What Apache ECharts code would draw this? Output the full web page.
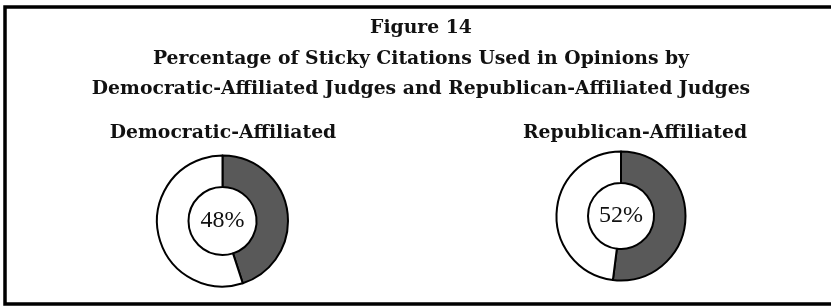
<!DOCTYPE html>
<html>
<head>
<meta charset="utf-8">
<script src="https://cdn.jsdelivr.net/npm/echarts@6/dist/echarts.min.js"></script>
<style>
  body { margin: 0; background: #ffffff; }
  #chart { width: 831px; height: 306px; }
</style>
</head>
<body>
<div id="chart"></div>
<script>
// data
const groups = ['Democratic-Affiliated', 'Republican-Affiliated'];
const stickyShare = [45, 52];   // dark slice as drawn
const otherShare = [55, 48];    // white remainder
const centerLabels = ['48%', '52%'];

const headFont = '"DejaVu Serif", "Liberation Serif", serif';
const bodyFont = '"Liberation Serif", "DejaVu Serif", serif';

let chart = echarts.init(document.getElementById('chart'));

// position of each donut and its heading
let pieCenters = [[222.5, 221], [621, 216]];
let pieRadius = [[34, 65.5], [33, 64.5]];
let headingX = [218, 630];

let titles = [{
  text: 'Figure 14\nPercentage of Sticky Citations Used in Opinions by\nDemocratic-Affiliated Judges and Republican-Affiliated Judges',
  left: 416,
  top: 8,
  textAlign: 'center',
  textStyle: {
    fontFamily: headFont,
    fontSize: 18.8,
    fontWeight: 'bold',
    color: '#111',
    lineHeight: 30.5
  }
}];

groups.forEach((g, i) => {
  titles.push({
    text: g,
    left: headingX[i],
    top: 119,
    textAlign: 'center',
    textStyle: {
      fontFamily: headFont,
      fontSize: 18.8,
      fontWeight: 'bold',
      color: '#111'
    }
  });
});

let series = groups.map((g, i) => {
  return {
    name: g,
    type: 'pie',
    center: pieCenters[i],
    radius: pieRadius[i],
    startAngle: 90,
    clockwise: true,
    silent: true,
    animation: false,
    labelLine: {show: false},
    itemStyle: {
      borderColor: '#000',
      borderWidth: 2
    },
    data: [
      {
        name: 'Sticky',
        value: stickyShare[i],
        itemStyle: {color: '#595959'},
        label: {
          show: true,
          position: 'center',
          formatter: centerLabels[i],
          fontFamily: bodyFont,
          fontSize: 24,
          color: '#111'
        }
      },
      {
        name: 'Other',
        value: otherShare[i],
        itemStyle: {color: '#ffffff'},
        label: {show: false}
      }
    ]
  };
});

let option = {
  backgroundColor: '#ffffff',
  animation: false,
  title: titles,
  graphic: [
    {
      type: 'rect',
      shape: {x: 5, y: 7, width: 900, height: 297},
      style: {fill: 'none', stroke: '#000', lineWidth: 3.5},
      silent: true
    }
  ],
  series: series
};

chart.setOption(option);
</script>
</body>
</html>
